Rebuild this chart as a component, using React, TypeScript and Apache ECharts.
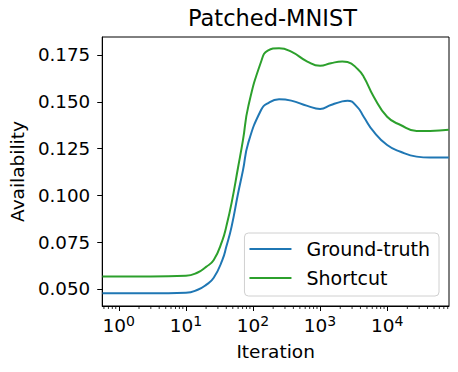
import React, { useEffect, useRef } from "react";
import * as echarts from "echarts";

const iterations = [0.57, 1, 3, 10, 15, 20, 26, 35, 40, 48, 60, 71, 85, 132, 166, 245, 372, 646, 1000, 1450, 2140, 2570, 3630, 4470, 6310, 10000, 15850, 27500, 43650, 83000];
const groundTruth = [0.0477, 0.0477, 0.0477, 0.048, 0.0496, 0.0522, 0.056, 0.0655, 0.0725, 0.0833, 0.1011, 0.1135, 0.128, 0.1456, 0.1492, 0.1513, 0.1506, 0.1478, 0.1462, 0.1483, 0.1502, 0.1506, 0.147, 0.142, 0.134, 0.1269, 0.1233, 0.1207, 0.1202, 0.1202];
const shortcut = [0.0566, 0.0566, 0.0566, 0.057, 0.0588, 0.0618, 0.0655, 0.076, 0.0833, 0.096, 0.115, 0.1296, 0.1474, 0.1714, 0.1773, 0.1786, 0.1768, 0.1715, 0.1692, 0.1706, 0.1715, 0.1712, 0.1675, 0.1634, 0.1527, 0.142, 0.1376, 0.1344, 0.1344, 0.135];
const xMajorTicks = [1, 10, 100, 1000, 10000];
const xMinorTicks = [0.6, 0.7, 0.8, 0.9, 2, 3, 4, 5, 6, 7, 8, 9, 20, 30, 40, 50, 60, 70, 80, 90, 200, 300, 400, 500, 600, 700, 800, 900, 2000, 3000, 4000, 5000, 6000, 7000, 8000, 9000, 20000, 30000, 40000, 50000, 60000, 70000, 80000];
const yTicks = [0.05, 0.075, 0.1, 0.125, 0.15, 0.175];

const X_MIN = 0.566;
const X_MAX = 83600;
const Y_MIN = 0.0409;
const Y_MAX = 0.1846;
const FONT = "DejaVu Sans";

export default function App() {
  const ref = useRef<HTMLDivElement>(null);
  useEffect(() => {
    if (!ref.current) return;
    const chart = echarts.init(ref.current, undefined, { renderer: "svg" });
    chart.setOption({
      animation: false,
      textStyle: { fontFamily: FONT, color: "#000" },
      title: {
        text: "Patched-MNIST",
        left: 188,
        top: 6,
        padding: 0,
        textStyle: { fontFamily: FONT, fontSize: 22.5, fontWeight: "normal", color: "#000" },
      },
      grid: {
        left: 100,
        right: 9,
        top: 37,
        bottom: 66,
        show: true,
        borderColor: "#000",
        borderWidth: 1,
        backgroundColor: "transparent",
      },
      legend: {
        orient: "vertical",
        right: 19,
        top: 233,
        padding: [5, 9, 7, 5],
        itemWidth: 42,
        itemHeight: 2,
        itemGap: 7,
        icon: "rect",
        borderColor: "#d0d0d0",
        borderWidth: 1,
        borderRadius: 4,
        backgroundColor: "rgba(255,255,255,0.8)",
        textStyle: { fontFamily: FONT, fontSize: 19, lineHeight: 22, color: "#000", padding: [0, 0, 0, 10] },
        data: ["Ground-truth", "Shortcut"],
      },
      xAxis: {
        type: "log",
        logBase: 10,
        min: X_MIN,
        max: X_MAX,
        name: "Iteration",
        nameLocation: "middle",
        nameGap: 36,
        nameTextStyle: { fontFamily: FONT, fontSize: 18.5, color: "#000" },
        axisLine: { show: true, onZero: false, lineStyle: { color: "#000", width: 1 } },
        axisTick: { show: true, length: 5, lineStyle: { color: "#000" }, customValues: xMajorTicks },
        axisLabel: {
          margin: 8,
          customValues: xMajorTicks,
          formatter: (v: number) => `{b|10}{s|${Math.round(Math.log10(v))}}`,
          rich: {
            b: { fontFamily: FONT, fontSize: 18.5, color: "#000" },
            s: { fontFamily: FONT, fontSize: 14, color: "#000", padding: [0, 0, 9, 0] },
          },
        },
        splitLine: { show: false },
        minorTick: { show: false },
      },
      yAxis: {
        type: "value",
        min: Y_MIN,
        max: Y_MAX,
        name: "Availability",
        nameLocation: "middle",
        nameGap: 72,
        nameTextStyle: { fontFamily: FONT, fontSize: 18.5, color: "#000" },
        axisLine: { show: true, onZero: false, lineStyle: { color: "#000", width: 1 } },
        axisTick: { show: true, length: 5, lineStyle: { color: "#000" }, customValues: yTicks },
        axisLabel: {
          margin: 12,
          customValues: yTicks,
          fontFamily: FONT,
          fontSize: 18.3,
          color: "#000",
          formatter: (v: number) => v.toFixed(3),
        },
        splitLine: { show: false },
      },
      series: [
        {
          name: "Ground-truth",
          type: "line",
          data: iterations.map((x, i) => [x, groundTruth[i]]),
          smooth: 0.5,
          symbol: "none",
          lineStyle: { color: "#1f77b4", width: 2 },
          itemStyle: { color: "#1f77b4" },
          z: 3,
        },
        {
          name: "Shortcut",
          type: "line",
          data: iterations.map((x, i) => [x, shortcut[i]]),
          smooth: 0.5,
          symbol: "none",
          lineStyle: { color: "#2ca02c", width: 2 },
          itemStyle: { color: "#2ca02c" },
          z: 3,
        },
        {
          name: "minorTicks",
          type: "custom",
          silent: true,
          clip: false,
          data: xMinorTicks.map((v) => [v, Y_MIN]),
          encode: { x: 0, y: 1 },
          renderItem: (params: any, api: any) => {
            const p = api.coord([api.value(0), api.value(1)]);
            return {
              type: "line",
              shape: { x1: p[0], y1: p[1], x2: p[0], y2: p[1] + 3 },
              style: { stroke: "#000", lineWidth: 0.8 },
            };
          },
        },
      ],
    });
    return () => chart.dispose();
  }, []);
  return <div ref={ref} style={{ position: "absolute", left: 0, top: 0, width: 458, height: 372 }} />;
}
